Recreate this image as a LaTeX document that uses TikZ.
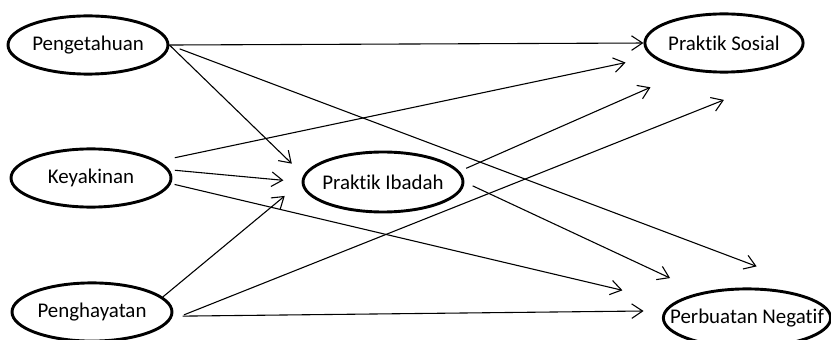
\documentclass[tikz,border=0pt]{standalone}
\usepackage{fontspec}
\setmainfont{Carlito}[Ligatures=NoCommon]
\usetikzlibrary{shapes.geometric,arrows.meta}

\begin{document}
\begin{tikzpicture}[scale=0.9666, line width=0.6pt,
  latent/.style={ellipse, draw, line width=1.6pt, inner xsep=-3pt, inner ysep=0pt,
    minimum width=88pt, minimum height=32pt, font=\fontsize{11.5}{13}\selectfont},
  arr/.style={-{Straight Barb[length=6pt,width=8pt]}}]

\useasboundingbox (0,0) rectangle (16.62,6.78);

\node [latent] (peng) at (1.76,5.88) {Pengetahuan};
\node [latent] (keya) at (1.82,3.22) {Keyakinan};
\node [latent] (pengh) at (1.84,0.54) {Penghayatan};
\node [latent, minimum height=33pt] (ibadah) at (7.66,3.14) {Praktik Ibadah};
\node [latent, minimum width=87pt] (sosial) at (14.48,5.92) {Praktik Sosial};
\node [latent, inner xsep=-11pt, minimum width=92pt] (negatif) at (14.94,0.42) {Perbuatan Negatif};

% Pengetahuan
\draw [arr] (peng.east)--(sosial.west);
\draw [arr, shorten >=9pt] (peng.east)--(ibadah.175);
\draw [arr, shorten <=6pt] (peng.east)--([shift={(5.5pt,12pt)}]negatif.north);

% Keyakinan
\draw [arr, shorten <=9pt, shorten >=15pt] (keya.14)--(sosial.191);
\draw [arr, shorten <=3pt, shorten >=10pt] (keya.6)--(ibadah.west);
\draw [arr, shorten <=2pt, shorten >=29pt] (keya.-4)--(negatif.168);

% Penghayatan
\draw [arr, shorten >=12pt] (pengh.12)--(ibadah.west);
\draw [arr, shorten <=8pt] (pengh.-6)--([yshift=-15pt]sosial.south);
\draw [arr, shorten <=5.5pt, shorten >=11.4pt] (pengh.-3)--(negatif.175);

% Praktik Ibadah
\draw [arr, shorten <=4pt, shorten >=23pt] (ibadah.8)--(sosial.218);
\draw [arr, shorten <=5pt, shorten >=18.6pt] (ibadah.east)--(negatif.151);

\end{tikzpicture}
\end{document}
